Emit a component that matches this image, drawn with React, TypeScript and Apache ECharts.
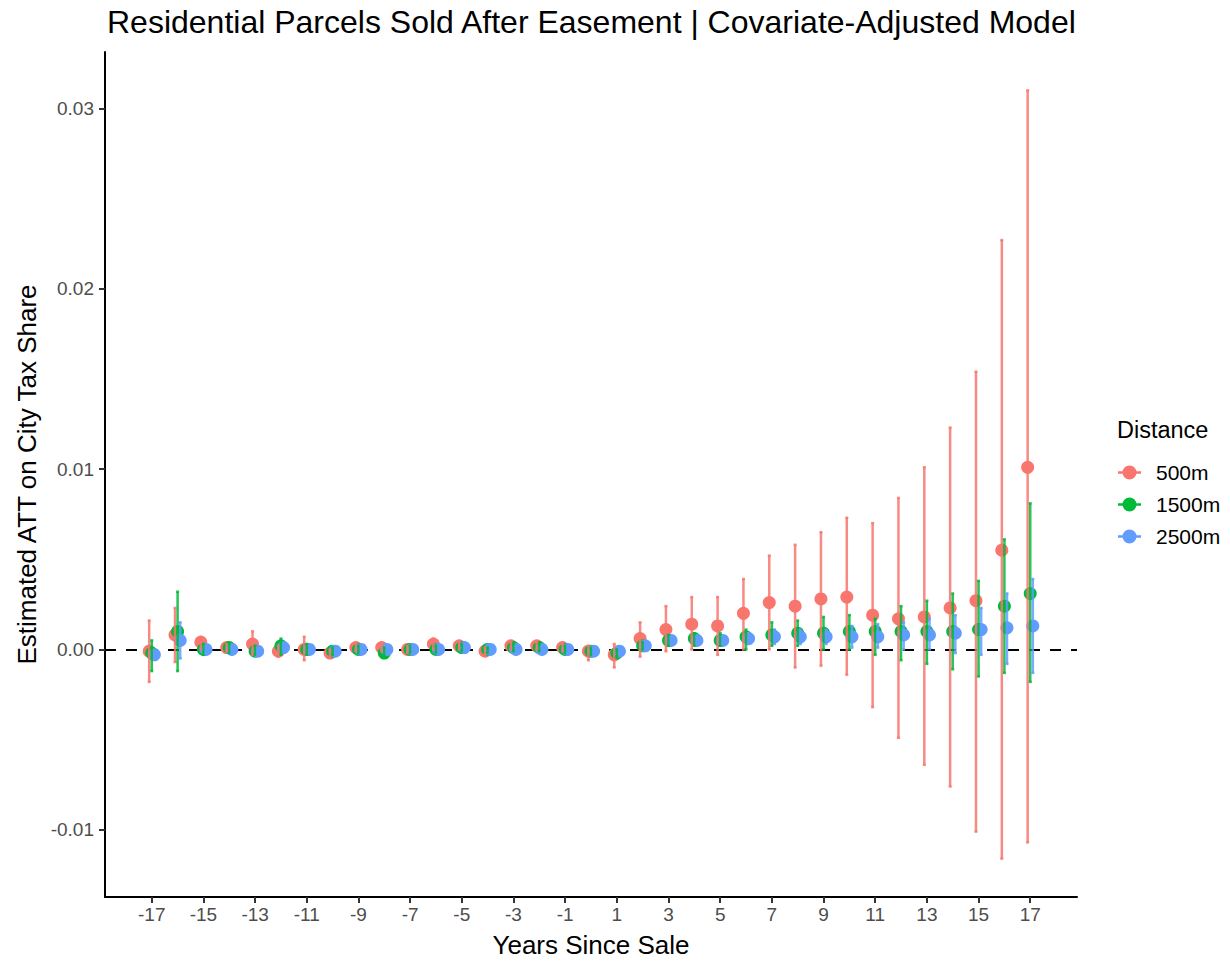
import React, { useEffect, useRef } from "react";
import * as echarts from "echarts";

// ---- data ----
const YEARS = [-17, -16, -15, -14, -13, -12, -11, -10, -9, -8, -7, -6, -5, -4, -3, -2, -1, 0, 1, 2, 3, 4, 5, 6, 7, 8, 9, 10, 11, 12, 13, 14, 15, 16, 17];
const X_TICKS = [-17, -15, -13, -11, -9, -7, -5, -3, -1, 1, 3, 5, 7, 9, 11, 13, 15, 17];
const Y_TICKS = [-0.01, 0, 0.01, 0.02, 0.03];
const GROUPS = ["500m", "1500m", "2500m"];

const EST_500 = [-0.0001, 0.0008, 0.0004, 0.0001, 0.0003, -0.0001, 0.0, -0.0002, 0.0001, 0.0001, 0.0, 0.0003, 0.0002, -0.0001, 0.0002, 0.0002, 0.0001, -0.0001, -0.0003, 0.0006, 0.0011, 0.0014, 0.0013, 0.002, 0.0026, 0.0024, 0.0028, 0.0029, 0.0019, 0.0017, 0.0018, 0.0023, 0.0027, 0.0055, 0.0101];
const LO_500 = [-0.0018, -0.0007, 0.0, -0.0001, -0.0003, -0.0004, -0.0006, -0.0004, -0.0001, -0.0001, -0.0002, 0.0, 0.0, -0.0003, 0.0, 0.0, -0.0001, -0.0006, -0.001, -0.0004, -0.0001, 0.0, -0.0003, 0.0, 0.0, -0.001, -0.0009, -0.0014, -0.0032, -0.0049, -0.0064, -0.0076, -0.0101, -0.0116, -0.0107];
const HI_500 = [0.0016, 0.0023, 0.0007, 0.0003, 0.001, 0.0002, 0.0007, 0.0, 0.0003, 0.0003, 0.0002, 0.0006, 0.0004, 0.0001, 0.0004, 0.0004, 0.0003, 0.0002, 0.0003, 0.0015, 0.0024, 0.0029, 0.0029, 0.0039, 0.0052, 0.0058, 0.0065, 0.0073, 0.007, 0.0084, 0.0101, 0.0123, 0.0154, 0.0227, 0.031];

const EST_1500 = [-0.0002, 0.001, 0.0, 0.0001, -0.0001, 0.0002, 0.0, -0.0001, 0.0, -0.0002, 0.0, 0.0, 0.0001, 0.0, 0.0001, 0.0001, 0.0, -0.0001, -0.0002, 0.0002, 0.0005, 0.0006, 0.0005, 0.0007, 0.0008, 0.0009, 0.0009, 0.001, 0.001, 0.001, 0.001, 0.001, 0.0011, 0.0024, 0.0031];
const LO_1500 = [-0.0012, -0.0012, -0.0003, -0.0002, -0.0003, -0.0003, -0.0003, -0.0003, -0.0002, -0.0004, -0.0002, -0.0002, -0.0001, -0.0002, -0.0001, -0.0001, -0.0002, -0.0003, -0.0004, 0.0, 0.0002, 0.0002, 0.0002, 0.0, 0.0002, 0.0002, 0.0, 0.0, -0.0003, -0.0006, -0.0008, -0.0011, -0.0015, -0.0013, -0.0018];
const HI_1500 = [0.0005, 0.0032, 0.0003, 0.0003, 0.0002, 0.0006, 0.0003, 0.0001, 0.0002, 0.0001, 0.0002, 0.0002, 0.0003, 0.0001, 0.0003, 0.0003, 0.0002, 0.0001, 0.0, 0.0004, 0.0008, 0.0009, 0.0009, 0.0011, 0.0015, 0.0016, 0.0018, 0.0019, 0.0017, 0.0024, 0.0027, 0.0031, 0.0038, 0.0061, 0.0081];

const EST_2500 = [-0.0003, 0.0005, 0.0, 0.0, -0.0001, 0.0001, 0.0, -0.0001, 0.0, 0.0, 0.0, 0.0, 0.0001, 0.0, 0.0, 0.0, 0.0, -0.0001, -0.0001, 0.0002, 0.0005, 0.0005, 0.0005, 0.0006, 0.0007, 0.0007, 0.0007, 0.0007, 0.0007, 0.0008, 0.0008, 0.0009, 0.0011, 0.0012, 0.0013];
const LO_2500 = [-0.0005, -0.0005, -0.0002, -0.0002, -0.0003, -0.0001, -0.0002, -0.0003, -0.0002, -0.0002, -0.0002, -0.0002, -0.0001, -0.0002, -0.0002, -0.0002, -0.0002, -0.0003, -0.0003, 0.0, 0.0003, 0.0003, 0.0003, 0.0003, 0.0003, 0.0003, 0.0003, 0.0001, 0.0001, 0.0, 0.0, -0.0002, -0.0003, -0.0008, -0.0013];
const HI_2500 = [-0.0001, 0.0015, 0.0002, 0.0002, 0.0001, 0.0003, 0.0002, 0.0001, 0.0002, 0.0002, 0.0002, 0.0002, 0.0003, 0.0002, 0.0002, 0.0002, 0.0002, 0.0001, 0.0001, 0.0004, 0.0007, 0.0007, 0.0007, 0.0009, 0.0011, 0.0011, 0.0011, 0.0013, 0.0014, 0.0015, 0.0017, 0.0019, 0.0023, 0.0031, 0.0039];

// ---- styling constants ----
const COLORS = ["#F8766D", "#00BA38", "#619CFF"];
const DODGE = [-0.1, 0, 0.1];
const FONT = "'Liberation Sans', Arial, Helvetica, sans-serif";

const ESTS = [EST_500, EST_1500, EST_2500];
const LOS = [LO_500, LO_1500, LO_2500];
const HIS = [HI_500, HI_1500, HI_2500];

const LEGEND_ICON =
  "path://M0,5.75 L23,5.75 L23,8.25 L0,8.25 Z M4.5,7 A7,7 0 1,1 18.5,7 A7,7 0 1,1 4.5,7 Z";

export default function App() {
  const ref = useRef<HTMLDivElement>(null);

  useEffect(() => {
    if (!ref.current) return;
    const chart = echarts.init(ref.current, undefined, { renderer: "svg" });

    const scatterSeries = GROUPS.map((name, k) => ({
      name,
      type: "scatter",
      symbol: "circle",
      symbolSize: 13,
      z: 2,
      itemStyle: { color: COLORS[k], opacity: 1 },
      data: YEARS.map((x, i) => [x + DODGE[k], ESTS[k][i]]),
      ...(k === 0
        ? {
            markLine: {
              silent: true,
              z: 1,
              symbol: ["none", "none"],
              label: { show: false },
              lineStyle: { type: [11, 10], color: "#000", width: 2 },
              data: [{ yAxis: 0 }],
            },
          }
        : {}),
    }));

    const errorSeries = GROUPS.map((name, k) => ({
      name: name + " CI",
      type: "custom",
      z: 3,
      data: YEARS.map((x, i) => [x + DODGE[k], LOS[k][i], HIS[k][i]]),
      encode: { x: 0, y: [1, 2] },
      renderItem: (_params: any, api: any) => {
        const x = api.value(0);
        const lo = api.coord([x, api.value(1)]);
        const hi = api.coord([x, api.value(2)]);
        const cap = 1.5;
        const style = { stroke: COLORS[k], lineWidth: 2.5, opacity: 0.85 };
        return {
          type: "group",
          children: [
            { type: "line", shape: { x1: lo[0], y1: lo[1], x2: hi[0], y2: hi[1] }, style },
            { type: "line", shape: { x1: lo[0] - cap, y1: lo[1], x2: lo[0] + cap, y2: lo[1] }, style },
            { type: "line", shape: { x1: hi[0] - cap, y1: hi[1], x2: hi[0] + cap, y2: hi[1] }, style },
          ],
        };
      },
    }));

    chart.setOption({
      animation: false,
      backgroundColor: "#ffffff",
      textStyle: { fontFamily: FONT },
      title: {
        text: "Residential Parcels Sold After Easement | Covariate-Adjusted Model",
        left: 107,
        top: 6,
        padding: 0,
        textStyle: { fontFamily: FONT, fontSize: 32, fontWeight: "normal", color: "#000" },
      },
      grid: { left: 105, top: 52, width: 972, height: 846, containLabel: false },
      xAxis: {
        type: "value",
        min: -18.81,
        max: 18.81,
        name: "Years Since Sale",
        nameLocation: "middle",
        nameGap: 35,
        nameTextStyle: { fontFamily: FONT, fontSize: 26, color: "#000" },
        axisLine: { show: true, onZero: false, lineStyle: { color: "#000", width: 2 } },
        axisTick: { show: true, length: 6, customValues: X_TICKS, lineStyle: { color: "#333", width: 2 } },
        axisLabel: {
          show: true,
          customValues: X_TICKS,
          margin: 8,
          fontFamily: FONT,
          fontSize: 19,
          color: "#4D4D4D",
          formatter: (v: number) => String(v),
        },
        splitLine: { show: false },
      },
      yAxis: {
        type: "value",
        min: -0.01373,
        max: 0.03313,
        name: "Estimated ATT on City Tax Share",
        nameLocation: "middle",
        nameGap: 62,
        nameRotate: 90,
        nameTextStyle: { fontFamily: FONT, fontSize: 26, color: "#000" },
        axisLine: { show: true, onZero: false, lineStyle: { color: "#000", width: 2 } },
        axisTick: { show: true, length: 6, customValues: Y_TICKS, lineStyle: { color: "#333", width: 2 } },
        axisLabel: {
          show: true,
          customValues: Y_TICKS,
          margin: 11,
          fontFamily: FONT,
          fontSize: 19,
          color: "#4D4D4D",
          formatter: (v: number) => v.toFixed(2),
        },
        splitLine: { show: false },
      },
      legend: {
        data: GROUPS,
        orient: "vertical",
        left: 1118,
        top: 462,
        padding: 0,
        itemWidth: 23,
        itemHeight: 14,
        itemGap: 11,
        icon: LEGEND_ICON,
        selectedMode: false,
        textStyle: { fontFamily: FONT, fontSize: 21, color: "#000", padding: [0, 0, 0, 10] },
      },
      graphic: [
        {
          type: "text",
          left: 1117,
          top: 418,
          style: { text: "Distance", fontFamily: FONT, fontSize: 23.5, fill: "#000" },
        },
      ],
      series: [...scatterSeries, ...errorSeries],
    });

    return () => chart.dispose();
  }, []);

  return (
    <div
      ref={ref}
      style={{ position: "fixed", left: 0, top: 0, width: 1230, height: 963, background: "#fff" }}
    />
  );
}
